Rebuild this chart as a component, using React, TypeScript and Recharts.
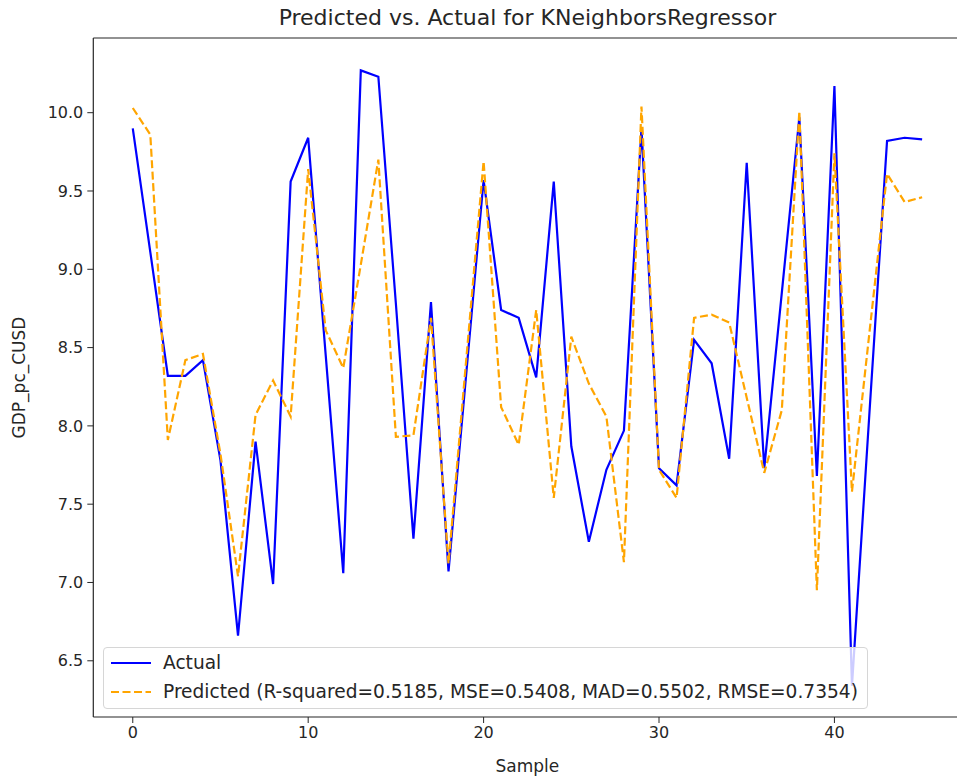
import React from 'react';
import { LineChart, Line, XAxis, YAxis, Legend } from 'recharts';

const SAMPLES = Array.from({ length: 46 }, (_, i) => i);

const ACTUAL = [
  9.9, 9.11, 8.32, 8.32, 8.42, 7.78, 6.66, 7.9, 6.99, 9.56,
  9.84, 8.45, 7.06, 10.27, 10.23, 8.78, 7.28, 8.79, 7.07, 8.32,
  9.57, 8.74, 8.69, 8.31, 9.56, 7.87, 7.26, 7.72, 7.97, 9.9,
  7.73, 7.62, 8.55, 8.4, 7.79, 9.68, 7.73, 8.85, 9.97, 7.68,
  10.17, 6.34, 8.09, 9.82, 9.84, 9.83,
];

const PREDICTED = [
  10.03, 9.86, 7.91, 8.42, 8.46, 7.82, 7.04, 8.07, 8.29, 8.06,
  9.64, 8.61, 8.37, 9.03, 9.7, 7.93, 7.94, 8.69, 7.12, 8.41,
  9.69, 8.12, 7.88, 8.74, 7.54, 8.57, 8.27, 8.06, 7.13, 10.04,
  7.72, 7.54, 8.69, 8.71, 8.66, 8.18, 7.7, 8.1, 10.01, 6.95,
  9.74, 7.58, 8.6, 9.61, 9.43, 9.46,
];

const X_TICKS = [0, 10, 20, 30, 40];
const Y_TICKS = [6.5, 7.0, 7.5, 8.0, 8.5, 9.0, 9.5, 10.0];

const TITLE = 'Predicted vs. Actual for KNeighborsRegressor';
const PRED_LABEL = 'Predicted (R-squared=0.5185, MSE=0.5408, MAD=0.5502, RMSE=0.7354)';

const data = SAMPLES.map((i) => ({ sample: i, actual: ACTUAL[i], predicted: PREDICTED[i] }));

const FONT = '"DejaVu Sans", sans-serif';
const INK = '#262626';

function LegendBox() {
  const rows = [
    { label: 'Actual', color: '#0000ff', dash: undefined },
    { label: PRED_LABEL, color: '#ffa500', dash: '8 3.5' },
  ];
  return (
    <div
      style={{
        width: 765,
        height: 62,
        boxSizing: 'border-box',
        background: 'rgba(255,255,255,0.8)',
        border: '1px solid #d6d6d6',
        borderRadius: 4,
        padding: '0 0 0 6px',
        fontFamily: FONT,
        fontSize: 18.6,
        color: INK,
      }}
    >
      {rows.map((r) => (
        <div key={r.label} style={{ display: 'flex', alignItems: 'center', height: 29 }}>
          <svg width={42} height={10} style={{ marginRight: 11 }}>
            <line x1={1} y1={5} x2={41} y2={5} stroke={r.color} strokeWidth={2.2} strokeDasharray={r.dash} />
          </svg>
          <span style={{ whiteSpace: 'nowrap' }}>{r.label}</span>
        </div>
      ))}
    </div>
  );
}

export default function App() {
  return (
    <div
      style={{
        position: 'absolute',
        left: 0,
        top: 0,
        width: 957,
        height: 780,
        overflow: 'hidden',
        background: '#fff',
      }}
    >
      <LineChart width={970} height={780} data={data} margin={{ top: 37, right: 8.4, bottom: 0, left: 0 }}>
        <XAxis
          xAxisId="top"
          orientation="top"
          dataKey="sample"
          type="number"
          domain={[-2.25, 47.25]}
          height={1}
          ticks={X_TICKS}
          tick={false}
          tickLine={false}
          axisLine={{ stroke: INK, strokeWidth: 1.2 }}
          label={{ value: TITLE, position: 'top', offset: 12, fill: INK, fontSize: 22, fontFamily: FONT }}
        />
        <XAxis
          dataKey="sample"
          type="number"
          domain={[-2.25, 47.25]}
          ticks={X_TICKS}
          height={63}
          tickSize={6}
          tickMargin={4}
          tick={{ fill: INK, fontSize: 16, fontFamily: FONT }}
          tickLine={{ stroke: INK }}
          axisLine={{ stroke: INK, strokeWidth: 1.2 }}
          label={{ value: 'Sample', position: 'insideBottom', offset: 8, fill: INK, fontSize: 17, fontFamily: FONT }}
        />
        <YAxis
          type="number"
          domain={[6.141, 10.477]}
          allowDataOverflow
          ticks={Y_TICKS}
          width={93.3}
          tickSize={6}
          tickMargin={4}
          tickFormatter={(v: number) => v.toFixed(1)}
          tick={{ fill: INK, fontSize: 16, fontFamily: FONT }}
          tickLine={{ stroke: INK }}
          axisLine={{ stroke: INK, strokeWidth: 1.2 }}
          label={{ value: 'GDP_pc_CUSD', angle: -90, position: 'insideLeft', offset: 19, fill: INK, fontSize: 17, fontFamily: FONT, style: { textAnchor: 'middle' } }}
        />
        <Line
          xAxisId={0}
          dataKey="actual"
          name="Actual"
          stroke="#0000ff"
          strokeWidth={2.2}
          dot={false}
          isAnimationActive={false}
        />
        <Line
          xAxisId={0}
          dataKey="predicted"
          name="Predicted"
          stroke="#ffa500"
          strokeWidth={2.2}
          strokeDasharray="8 3.5"
          dot={false}
          isAnimationActive={false}
        />
        <Legend
          layout="vertical"
          align="center"
          verticalAlign="middle"
          content={() => <LegendBox />}
          wrapperStyle={{ position: 'absolute', left: 103, top: 647, width: 765, height: 62 }}
        />
      </LineChart>
    </div>
  );
}
